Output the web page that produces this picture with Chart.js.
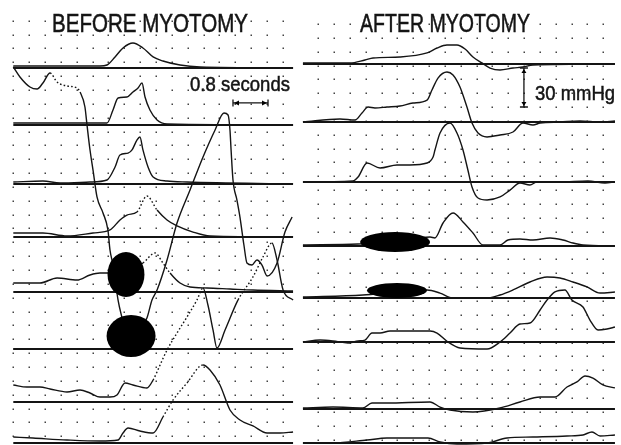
<!DOCTYPE html>
<html><head><meta charset="utf-8">
<script src="https://cdn.jsdelivr.net/npm/chart.js@4.4.0/dist/chart.umd.min.js"></script>
<style>
html,body{margin:0;padding:0;background:#fff;width:621px;height:445px;overflow:hidden}
canvas{position:absolute;top:0}
#cb{left:0}#ca{left:300px}
</style></head><body>
<canvas id="cb" width="300" height="445"></canvas>
<canvas id="ca" width="321" height="445"></canvas>
<script>
// time unit: grid divisions; pressure unit: mmHg relative to each channel's baseline
const titles = ['BEFORE MYOTOMY', 'AFTER MYOTOMY'];
const calibration = {seconds: 0.8, secondsDivs: 2.21, mmHg: 30};
const calibLabels = ['0.8 seconds', '30 mmHg'];

// BEFORE MYOTOMY traces: [time, mmHg]
const bA = [[0,0.8],[0.42,-6.9],[1.05,-14.6],[1.5,-16.2],[1.87,-11.5],[2.32,-3.8],[2.76,-10.8],[3.39,-13.8],[4.02,-15.4],[4.21,-18.5],[4.52,-30],[4.65,-43.8],[4.84,-63.1],[5.03,-78.5],[5.28,-99.2],[5.66,-111.5],[5.97,-124.6],[6.10,-140],[6.29,-151.5],[6.61,-178.5],[6.86,-192.3],[7.05,-201.5]];
const b1 = [[0,1.5],[5.47,1.5],[5.91,2.3],[6.42,8.5],[6.92,15.4],[7.55,19.2],[8.18,15.4],[8.82,8.5],[9.44,5.4],[10.52,2.3],[11.78,0.8],[17.65,0]];
const b2 = [[0,1.5],[5.15,1.5],[5.91,1.5],[6.29,11.5],[6.61,20.8],[7.17,21.5],[7.55,25.4],[7.87,28.5],[8.12,32.3],[8.31,21.5],[8.62,11.5],[9.07,3.8],[9.70,0.8],[17.65,0]];
const b3 = [[0,1.5],[1.87,2.3],[2.95,0.8],[4.84,1.5],[5.91,3.1],[6.42,13.1],[6.73,22.3],[7.24,23.8],[7.49,26.2],[7.80,33.8],[7.99,36.2],[8.18,26.2],[8.50,13.1],[8.82,5.4],[9.70,2.3],[10.96,1.5],[17.65,0]];
const b4 = [[0,3.1],[1.87,3.1],[3.39,0.8],[5.03,3.1],[6.10,5.4],[6.73,13.1],[7.17,16.9],[7.80,19.2],[8.43,31.5],[9.07,20.8],[9.70,13.1],[10.33,8.5],[11.34,3.8],[12.41,0.8],[17.65,0]];
const b5 = [[0,6.9],[1.68,6.9],[2.76,10.8],[4.02,9.2],[4.84,13.1],[5.47,14.6],[6.10,14.6],[7.05,15.4],[8.18,22.3],[8.94,30],[9.44,22.3],[9.89,14.6],[10.52,6.9],[11.15,3.8],[12.22,3.1],[13.67,2.3],[15.12,1.5],[17.65,0.8]];
const b6 = [[0,0],[6.10,0],[7.5,8],[8.43,23.8],[8.75,37.7],[9.07,45.4],[9.70,68.5],[10.33,96.9],[11.15,122.3],[11.97,147.7],[12.73,168.5],[13.29,181.5],[13.55,180],[13.67,168.5],[13.74,153.1],[13.86,130],[14.11,114.6],[14.30,101.5],[14.55,80],[14.74,66.2],[15.06,64.6],[15.37,68.5],[15.69,64.6],[16.01,56.2],[16.64,66.2],[17.14,90],[17.59,101.5]];
const b7 = [[0,13.1],[0.86,11.5],[1.68,11.5],[2.32,10],[3.39,7.7],[4.21,9.2],[4.84,6.9],[5.47,3.8],[6.10,3.8],[6.54,5.4],[7.05,14.6],[7.55,13.1],[8.43,10.8],[8.82,16.9],[9.26,28.5],[9.70,40],[10.33,53.1],[10.96,65.4],[11.59,78.5],[11.97,87.7],[12.28,74.6],[12.60,55.4],[12.85,41.5],[13.36,55.4],[14.18,78.5],[15.12,96.2],[15.75,111.5],[16.32,122.3],[16.64,109.2],[17.02,86.2],[17.65,78.5]];
const b8 = [[0,4.6],[1.24,3.8],[3.39,2.3],[5.47,1.5],[6.61,2.3],[6.92,7.7],[7.24,11.5],[7.99,9.2],[8.82,7.7],[9.44,20],[10.08,33.1],[10.96,46.2],[11.97,60],[12.41,56.2],[13.04,44.6],[13.67,25.4],[14.30,17.7],[15.12,13.1],[16.01,7.7],[16.83,7.7],[17.65,8.5]];

// AFTER MYOTOMY traces: [time, mmHg]
const a1 = [[-0.97,0.8],[2.00,0.8],[2.95,3.1],[3.46,4.6],[5.16,5.4],[6.87,8.5],[7.50,12.3],[8.13,14.6],[8.76,14.6],[9.27,11.5],[9.77,5.4],[10.34,0.8],[10.85,-3.1],[11.48,-4.6],[12.30,-3.1],[12.93,-2.3],[13.56,-0.8],[18.74,0]];
const a2 = [[-0.97,0],[1.37,2.3],[2.32,1.5],[2.76,6.9],[3.14,11.5],[3.58,10.8],[4.34,11.5],[5.16,12.3],[5.98,14.6],[6.87,16.9],[7.18,24.6],[7.56,33.8],[8.13,38.5],[8.51,36.2],[8.95,26.9],[9.39,11.5],[9.71,-0.8],[10.09,-8.5],[10.66,-11.5],[11.48,-10],[12.30,-7.7],[12.93,-0.8],[13.56,-2.3],[14.01,-0.8],[15.27,0],[16.53,0.8],[17.80,0],[18.74,0.8]];
const a3 = [[-0.97,0],[2.19,0.8],[2.51,3.8],[3.08,14.6],[3.90,10.8],[4.97,13.1],[5.79,13.1],[6.87,14.6],[7.25,19.2],[7.37,24.6],[7.69,37.7],[8.32,45.4],[8.76,37.7],[9.14,24.6],[9.45,9.2],[9.71,-3.8],[10.09,-12.3],[10.66,-13.8],[11.48,-11.5],[12.11,-6.2],[12.74,-0.8],[13.37,-2.3],[13.81,0],[15.27,0],[17.03,0.8],[18.11,-0.8],[18.74,0]];
const a4 = [[-0.97,0.8],[2.51,1.5],[4.85,3],[7.06,6.9],[7.37,6.2],[7.88,17.7],[8.51,25.4],[9.14,18.5],[9.77,10],[10.40,0.8],[11.48,0.8],[11.98,4.6],[12.74,5.4],[13.56,4.6],[14.64,6.2],[15.46,4.6],[16.09,2.3],[16.72,0.8],[18.74,0]];
const a5 = [[-0.97,0.8],[2.82,2.3],[4.97,5],[6.87,6.2],[7.69,3.8],[8.51,0],[10.66,0],[11.48,2.3],[12.30,6.2],[13.37,12.3],[14.45,16.2],[15.27,15.4],[16.09,12.3],[16.97,8.5],[17.80,3.8],[18.74,4.6]];
const a6 = [[-0.97,0],[0.11,1.5],[0.93,0.8],[1.88,-0.8],[2.51,0.8],[2.95,1.5],[3.39,6.9],[3.90,6.9],[4.53,8.5],[7.06,8.5],[7.50,6.9],[8.19,0],[8.95,-4.6],[10.66,-5.4],[11.48,0],[12.11,6.9],[12.74,13.8],[13.37,14.6],[14.01,24.6],[14.45,32.3],[14.95,38.5],[15.58,40],[16.02,32.3],[16.72,26.9],[17.16,16.9],[17.67,9.2],[18.24,10],[18.74,11.5]];
const a7 = [[-0.97,0.8],[0.93,1.5],[2.82,0.8],[3.39,4.6],[4.34,4.6],[7.06,5.4],[7.69,1.5],[8.32,-0.8],[9.77,-2.3],[11.48,0.8],[12.74,5.4],[14.01,9.2],[14.95,9.2],[15.71,16.9],[16.34,20.8],[16.85,25.4],[17.35,23.8],[17.98,18.5],[18.74,16.2]];
const a8 = [[-0.97,0],[0.93,0],[3.08,2.3],[4.34,3.8],[6.93,3.8],[7.69,0.8],[8.76,-0.8],[10.66,0],[11.92,3.8],[13.56,4.6],[15.71,5.4],[16.72,6.2],[17.29,8.5],[17.80,5.4],[18.74,6.2]];

// faint (fast pen) stretches drawn dotted: [trace, from, to]
const faintSpans = [[bA,2.32,4.21],[b4,7.80,9.07],[b5,8.18,9.89],[b7,8.82,11.97],[b7,14.18,16.32],[b8,9.44,11.97]];

// sphincter markers: [channel, time, mmHg, width(divs), height(mmHg)]
const beforeMarkers = [[4, 7.11, 13.5, 2.33, 34.6], [5, 7.43, 10, 3.09, 32.3]];
const afterMarkers = [[3, 4.85, 3.1, 4.42, 15.4], [4, 4.97, 5.8, 3.79, 11.5]];

// layout (channel baseline offsets, in mmHg on the shared vertical scale)
const beforeBaselines = [290, 246.15, 200.77, 160, 117.69, 73.85, 33.08, 1.54];
const afterBaselines = [293.08, 248.46, 202.31, 153.08, 113.08, 79.23, 27.69, 1.54];

const INK = '#141414';
function buildSets(list, offsets, x0, x1) {
  const sets = offsets.map(o => ({data: [{x: x0, y: o}, {x: x1, y: o}], borderColor: INK, borderWidth: 2, pointRadius: 0, tension: 0}));
  list.forEach(([d, ch]) => {
    const spans = faintSpans.filter(s => s[0] === d);
    sets.push({
      data: d.map(([t, p]) => ({x: t, y: p + offsets[ch]})),
      borderColor: INK, borderWidth: 1.4, pointRadius: 0, cubicInterpolationMode: 'monotone',
      segment: {borderDash: c => spans.some(s => c.p0.parsed.x >= s[1] - 1e-6 && c.p1.parsed.x <= s[2] + 1e-6) ? [1.6, 2.2] : undefined}
    });
  });
  return sets;
}

function fitText(ctx, txt, cx, baseY, w, size) {
  ctx.save();
  ctx.font = size + 'px "Liberation Sans", Arial, sans-serif';
  const m = ctx.measureText(txt).width;
  ctx.translate(cx, baseY);
  ctx.scale(w / m, 1);
  ctx.textAlign = 'center';
  ctx.textBaseline = 'alphabetic';
  ctx.fillStyle = INK;
  ctx.strokeStyle = INK;
  ctx.lineWidth = 0.5;
  ctx.fillText(txt, 0, 0);
  ctx.strokeText(txt, 0, 0);
  ctx.restore();
}

const decor = {
  id: 'decor',
  beforeDatasetsDraw(chart, args, o) {
    const {ctx, scales: {x, y}} = chart;
    ctx.save();
    ctx.fillStyle = '#444';
    for (let i = 0; i < o.grid.cols; i++) for (let j = 0; j < o.grid.rows; j++) {
      const px = x.getPixelForValue(i);
      const py = y.getPixelForValue(o.grid.y0 - j * o.grid.dy);
      ctx.fillRect(Math.round(px) - 0.5, Math.round(py) - 0.5, 1.5, 1.5);
    }
    ctx.restore();
  },
  afterDatasetsDraw(chart, args, o) {
    const {ctx, scales: {x, y}} = chart;
    ctx.save();
    ctx.fillStyle = '#000';
    o.markers.forEach(([ch, t, p, w, h]) => {
      const cx = x.getPixelForValue(t), cy = y.getPixelForValue(p + o.offsets[ch]);
      const rx = Math.abs(x.getPixelForValue(t + w / 2) - cx), ry = Math.abs(y.getPixelForValue(p + o.offsets[ch] + h / 2) - cy);
      ctx.beginPath(); ctx.ellipse(cx, cy, rx, ry, 0, 0, Math.PI * 2); ctx.fill();
    });
    ctx.strokeStyle = INK; ctx.lineWidth = 1.3;
    if (o.timeBar) {
      const [t, yv] = o.timeBar;
      const xa = x.getPixelForValue(t), xb = x.getPixelForValue(t + calibration.secondsDivs), py = y.getPixelForValue(yv);
      ctx.beginPath(); ctx.moveTo(xa, py); ctx.lineTo(xb, py);
      ctx.moveTo(xa, py - 3.5); ctx.lineTo(xa, py + 3.5); ctx.moveTo(xb, py - 3.5); ctx.lineTo(xb, py + 3.5); ctx.stroke();
      ctx.beginPath(); ctx.moveTo(xa + 1, py); ctx.lineTo(xa + 6, py - 2.5); ctx.lineTo(xa + 6, py + 2.5); ctx.closePath();
      ctx.moveTo(xb - 1, py); ctx.lineTo(xb - 6, py - 2.5); ctx.lineTo(xb - 6, py + 2.5); ctx.closePath(); ctx.fill();
    }
    if (o.pressBar) {
      const [t, yv] = o.pressBar;
      const px = x.getPixelForValue(t), ya = y.getPixelForValue(yv), yb = y.getPixelForValue(yv + calibration.mmHg);
      ctx.beginPath(); ctx.moveTo(px, ya); ctx.lineTo(px, yb);
      ctx.moveTo(px - 4, ya); ctx.lineTo(px + 4, ya); ctx.moveTo(px - 4, yb); ctx.lineTo(px + 4, yb); ctx.stroke();
      ctx.beginPath(); ctx.moveTo(px, ya - 1); ctx.lineTo(px - 2.5, ya - 5); ctx.lineTo(px + 2.5, ya - 5); ctx.closePath();
      ctx.moveTo(px, yb + 1); ctx.lineTo(px - 2.5, yb + 5); ctx.lineTo(px + 2.5, yb + 5); ctx.closePath(); ctx.fill();
    }
    ctx.restore();
    o.texts.forEach(([txt, cx, by, w, s]) => fitText(ctx, txt, cx, by, w, s));
  }
};

function makeChart(id, sets, xmin, xmax, deco) {
  return new Chart(document.getElementById(id), {
    type: 'line',
    data: {datasets: sets},
    options: {
      responsive: false, animation: false, events: [],
      layout: {padding: 0},
      scales: {
        x: {type: 'linear', min: xmin, max: xmax, display: false},
        y: {type: 'linear', min: 0, max: 342.31, display: false}
      },
      plugins: {legend: {display: false}, tooltip: {enabled: false}, decor: deco}
    },
    plugins: [decor]
  });
}

makeChart('cb', buildSets([[bA,0],[b1,0],[b2,1],[b3,2],[b4,3],[b5,4],[b6,5],[b7,6],[b8,7]], beforeBaselines, 0, 17.65), -0.839, 18.088, {
  grid: {cols: 18, rows: 31, y0: 326.38, dy: 10.654},
  offsets: beforeBaselines, markers: beforeMarkers,
  timeBar: [13.86, 263.1],
  texts: [[titles[0], 150, 31.5, 196, 25], [calibLabels[0], 240, 91, 100, 21]]
});
makeChart('ca', buildSets([[a1,0],[a2,1],[a3,2],[a4,3],[a5,4],[a6,5],[a7,6],[a8,7]], afterBaselines, -0.97, 18.74), -1.156, 19.122, {
  grid: {cols: 19, rows: 31, y0: 323.85, dy: 10.654},
  offsets: afterBaselines, markers: afterMarkers,
  pressBar: [12.99, 260],
  texts: [[titles[1], 145, 31.5, 170, 25], [calibLabels[1], 275, 100, 80, 21]]
});
</script>
</body></html>
